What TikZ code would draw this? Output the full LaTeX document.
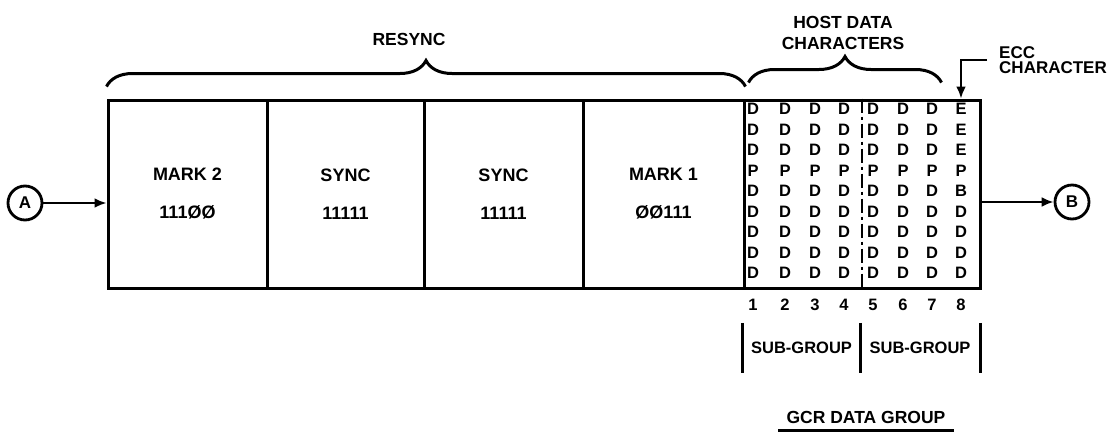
\documentclass[tikz,border=0pt]{standalone}
\usepackage{fontspec}
\setmainfont{Liberation Sans}
\usetikzlibrary{arrows.meta, positioning, decorations.pathreplacing}

\begin{document}
\begin{tikzpicture}[
    x=1pt, y=-1pt,
    c/.style={rectangle, draw, line width=3pt, minimum height=188pt, inner sep=0pt, align=center, font=\fontsize{18}{38}\selectfont\bfseries},
    l/.style={font=\fontsize{17.5}{21}\selectfont\bfseries, inner sep=0pt, align=center},
    ch/.style={font=\fontsize{16.5}{16}\selectfont\bfseries, inner sep=0pt},
    sg/.style={font=\fontsize{16.5}{16}\selectfont\bfseries, inner sep=0pt, minimum height=50pt},
    r/.style={circle, draw, line width=2.8pt, minimum size=34pt, inner sep=0pt, font=\fontsize{17}{17}\selectfont\bfseries},
    a/.style={-{Latex[length=12pt, width=10pt]}, line width=2.5pt},
    b/.style={decorate, decoration={brace, amplitude=26pt}, line width=3pt},
]
\useasboundingbox (0,0) rectangle (1120,432);

% the frame of cells
\node[c, minimum width=159pt] (mark2) at (187.5,194) {MARK 2\\111ØØ};
\node[c, minimum width=157pt] (sync1) at (345.5,194) {SYNC\\11111};
\node[c, minimum width=159pt] (sync2) at (503.5,194) {SYNC\\11111};
\node[c, minimum width=161pt] (mark1) at (663.5,194) {MARK 1\\ØØ111};
\node[c, minimum width=236pt] (data) at (862,194) {};
\draw[line width=2.5pt, dash pattern=on 14pt off 4pt on 3pt off 4pt] (data.north) -- (data.south);

% data characters
\foreach \x [count=\c] in {753,785,815,844,873,903,932} {
  \foreach \t [count=\r] in {D,D,D,P,D,D,D,D,D}
    \node[ch] (d\c\r) at (\x,{109+20.5*(\r-1)}) {\t};
}
\foreach \t [count=\r] in {E,E,E,P,B,D,D,D,D}
  \node[ch] (d8\r) at (961,{109+20.5*(\r-1)}) {\t};
\foreach \x [count=\c] in {753,785,815,844,873,903,932,961}
  \node[ch] (n\c) at (\x,305) {\c};

% sub-groups
\node[sg, minimum width=117pt] (sg1) at (801.5,348) {SUB-GROUP};
\node[sg, minimum width=120pt] (sg2) at (920,348) {SUB-GROUP};
\draw[line width=3pt] (sg1.north west) -- (sg1.south west);
\draw[line width=3pt] (sg1.north east) -- (sg1.south east);
\draw[line width=3pt] (sg2.north east) -- (sg2.south east);

\node[l] (gcr) at (866,417) {GCR DATA GROUP};
\draw[line width=3pt] ([xshift=-8pt, yshift=-7pt]gcr.south west) -- ([xshift=8pt, yshift=-7pt]gcr.south east);

% braces
\node[l] (rs) at (409,39) {RESYNC};
\node[l] (hd) at (843,33) {HOST DATA\\CHARACTERS};
\draw[b] ([yshift=12pt]mark2.north west) -- ([yshift=12pt]mark1.north east);
\draw[b] ([xshift=6pt, yshift=16pt]data.north west) -- ([xshift=-40pt, yshift=16pt]data.north east);

\node[l, anchor=west, align=left, font=\fontsize{17}{15}\selectfont\bfseries] (ecc) at (999,60) {ECC\\CHARACTER};
\draw[a] ([xshift=-12pt]ecc.west) -| (d81.north |- data.north);

% ports
\node[r] (A) at (25,203) {A};
\node[r] (B) at (1072,202) {B};
\draw[a] (A) -- (A -| mark2.west);
\draw[a] (B -| data.east) -- (B);
\end{tikzpicture}
\end{document}
